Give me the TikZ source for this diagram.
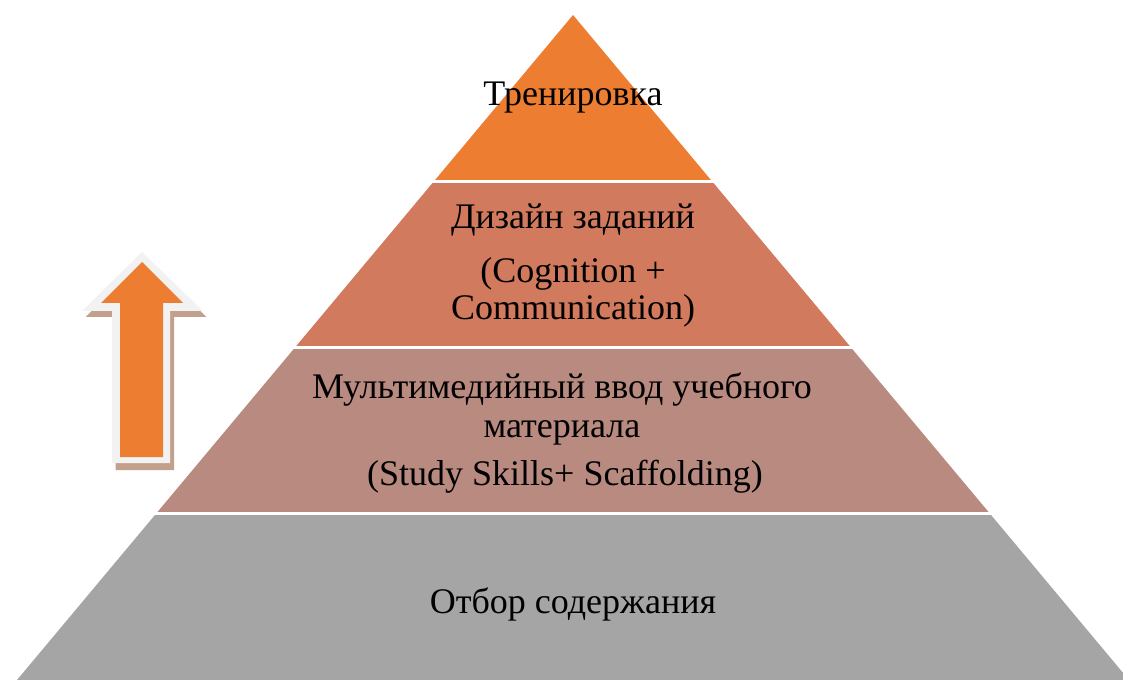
\documentclass[tikz,border=0pt]{standalone}
\usepackage{fontspec}
\setmainfont{Liberation Serif}
\usepackage{tikz}
\definecolor{topOrange}{HTML}{ED7D31}
\definecolor{terracotta}{HTML}{D17A5D}
\definecolor{dustyRose}{HTML}{B98A80}
\definecolor{baseGray}{HTML}{A5A5A5}
\definecolor{arrowRim}{HTML}{F2F2F2}
\definecolor{arrowShade}{HTML}{C3A08C}

\begin{document}
\begin{tikzpicture}[x=0.75pt, y=-0.75pt,
    lbl/.style={anchor=base, inner sep=0pt, font=\fontsize{27}{32}\selectfont}]
    \useasboundingbox (0,0) rectangle (1123,680);

    % 1. The four tiers of the pyramid (apex at 573,15)
    \fill[topOrange]  (573,15) -- (712,181.25) -- (434,181.25) -- cycle;
    \fill[terracotta] (434,181.25) -- (712,181.25) -- (851,347.5) -- (295,347.5) -- cycle;
    \fill[dustyRose]  (295,347.5) -- (851,347.5) -- (990,513.75) -- (156,513.75) -- cycle;
    \fill[baseGray]   (156,513.75) -- (990,513.75) -- (1129,680) -- (17,680) -- cycle;

    % white gaps between the tiers
    \draw[white, line width=2.25pt] (420,181.25) -- (730,181.25);
    \draw[white, line width=2.25pt] (280,347.5) -- (870,347.5);
    \draw[white, line width=2.25pt] (140,513.75) -- (1010,513.75);

    % 2. Labels of the tiers (placed on their baselines)
    \node[lbl] (training) at (573,106) {Тренировка};

    \node[lbl] (design) at (573,229) {Дизайн заданий};
    \node[lbl] (cognition) at (573,283) {(Cognition +};
    \node[lbl] (communication) at (573,320) {Communication)};

    \node[lbl] (multimedia) at (562,398) {Мультимедийный ввод учебного};
    \node[lbl] (material) at (562,437) {материала};
    \node[lbl] (skills) at (565,485) {(Study Skills+ Scaffolding)};

    \node[lbl] (content) at (573,613) {Отбор содержания};

    % 3. Upward arrow: shadow, light rim, orange body
    \fill[arrowShade] (145.5,258) -- (206.5,317) -- (174,317) -- (174,470)
        -- (115.5,470) -- (115.5,317) -- (85.5,317) -- cycle;
    \fill[arrowRim] (142,252) -- (203,311) -- (170,311) -- (170,463)
        -- (112,463) -- (112,311) -- (82,311) -- cycle;
    \fill[topOrange] (142,262) -- (183,303) -- (163,303) -- (163,457)
        -- (120,457) -- (120,303) -- (101,303) -- cycle;

\end{tikzpicture}
\end{document}
